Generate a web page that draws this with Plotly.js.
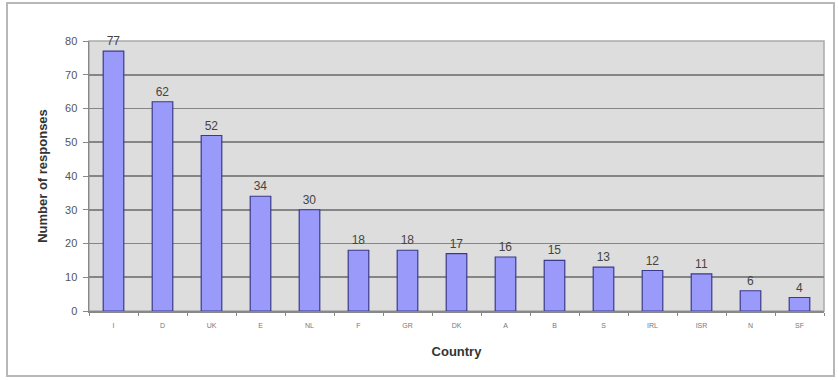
<!DOCTYPE html>
<html>
<head>
<meta charset="utf-8">
<script src="https://cdn.plot.ly/plotly-3.0.1.min.js"></script>
<style>
html,body{margin:0;padding:0;background:#fff;}
#wrap{position:relative;width:838px;height:380px;}
#frame{position:absolute;left:6px;top:2px;width:825px;height:371px;border:2px solid #b8b8b8;box-sizing:content-box;pointer-events:none;z-index:5;}
#chart{position:absolute;left:0;top:0;width:838px;height:380px;}
</style>
</head>
<body>
<div id="wrap">
<div id="chart"></div>
<div id="frame"></div>
</div>
<script>
const countries = ["I","D","UK","E","NL","F","GR","DK","A","B","S","IRL","ISR","N","SF"];
const responses = [77,62,52,34,30,18,18,17,16,15,13,12,11,6,4];
const yTicks = [0,10,20,30,40,50,60,70,80];

const trace = {
  type: "bar",
  x: countries,
  y: responses,
  text: responses.map(String),
  textposition: "outside",
  cliponaxis: false,
  textfont: {family: "Liberation Sans, Arial, sans-serif", size: 12, color: "#444"},
  marker: {color: "#9a9afa", line: {color: "#3a3a8a", width: 1.2}},
  width: 0.42,
  hoverinfo: "x+y"
};

const layout = {
  width: 838, height: 380,
  margin: {l: 89, r: 14, t: 41, b: 69},
  paper_bgcolor: "#ffffff",
  plot_bgcolor: "#dddddd",
  showlegend: false,
  font: {family: "Liberation Sans, Arial, sans-serif", color: "#333"},
  xaxis: {
    type: "category",
    tickson: "boundaries",
    ticks: "outside",
    ticklen: 3,
    tickcolor: "#888",
    showline: true,
    linecolor: "#888",
    linewidth: 1.5,
    showgrid: false,
    ticklabelstandoff: 7,
    tickfont: {size: 7, color: "#777"},
    title: {text: "Country", font: {size: 13, color: "#333", weight: "bold"}, standoff: 19}
  },
  yaxis: {
    range: [0, 80],
    tickvals: yTicks,
    ticks: "outside",
    ticklen: 5,
    tickcolor: "#888",
    showline: true,
    linecolor: "#888",
    linewidth: 1.5,
    gridcolor: "#858585",
    gridwidth: 1.8,
    zeroline: false,
    ticklabelstandoff: 3,
    tickfont: {size: 11, color: "#555"},
    title: {text: "Number of responses", font: {size: 13, color: "#333", weight: "bold"}, standoff: 14}
  },
  shapes: [{
    type: "rect", xref: "paper", yref: "paper", x0: 0, x1: 1, y0: 0, y1: 1,
    line: {color: "#aaa", width: 1.5}, fillcolor: "rgba(0,0,0,0)", layer: "below"
  }]
};

Plotly.newPlot("chart", [trace], layout, {displayModeBar: false, staticPlot: true});
</script>
</body>
</html>
